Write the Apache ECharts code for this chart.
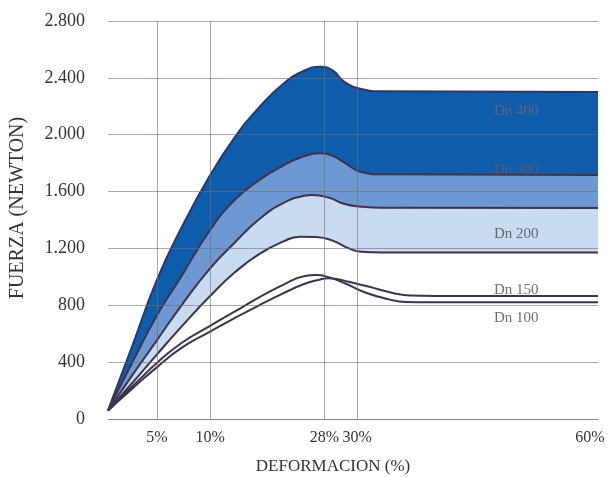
<!DOCTYPE html>
<html>
<head>
<meta charset="utf-8">
<script src="https://cdn.jsdelivr.net/npm/echarts@6/dist/echarts.min.js"></script>
<style>html,body{margin:0;padding:0;background:#fff;overflow:hidden}#c{width:607px;height:477px;position:absolute;left:0;top:0}</style>
</head>
<body>
<div id="c"></div>
<script>
// Schematic (non-linear) deformation axis: 121 equal steps, labelled at these steps
const xTickLabels = ['5%', '10%', '28%', '30%', '60%'];
const xTickSteps = [12, 25, 53, 61, 120];
const stepCount = 121;

// Force (N) curves; x = step on the deformation axis
const dn400Steps = [0, 6, 12, 18, 25, 31, 37, 43, 48, 52, 55, 58, 62, 67, 120];
const dn400Force = [60, 518, 980, 1346, 1715, 1980, 2192, 2360, 2450, 2478, 2452, 2370, 2322, 2305, 2300];

const dn300Steps = [0, 6, 12, 18, 25, 31, 37, 43, 48, 52, 55, 58, 62, 67, 120];
const dn300Force = [60, 400, 730, 1005, 1330, 1540, 1680, 1785, 1848, 1869, 1852, 1802, 1738, 1722, 1717];

const dn200UpSteps = [0, 6, 12, 18, 25, 31, 37, 43, 48, 50, 54, 58, 62, 67, 120];
const dn200UpForce = [60, 310, 555, 800, 1060, 1240, 1405, 1520, 1570, 1576, 1558, 1512, 1494, 1486, 1484];

const dn200LowSteps = [0, 6, 12, 18, 25, 31, 37, 43, 47, 51, 55, 59, 62, 67, 120];
const dn200LowForce = [60, 255, 455, 650, 865, 1030, 1160, 1250, 1283, 1280, 1255, 1200, 1177, 1172, 1172];

const dn100Steps = [0, 6, 12, 18, 25, 31, 37, 43, 48, 51, 54, 58, 63, 69, 73, 78, 120];
const dn100Force = [60, 230, 395, 535, 655, 755, 855, 945, 1005, 1013, 998, 955, 890, 840, 823, 821, 821];

const dn150Steps = [0, 6, 12, 18, 25, 31, 37, 43, 48, 52, 54, 56, 59, 64, 70, 74, 80, 120];
const dn150Force = [60, 215, 365, 500, 615, 710, 800, 885, 950, 982, 990, 985, 965, 930, 885, 868, 865, 865];

// Curve labels
const labelNames = ['Dn 400', 'Dn 300', 'Dn 200', 'Dn 150', 'Dn 100'];
const labelSteps = [100, 100, 100, 100, 100];
const labelForce = [2167, 1752, 1302, 908, 711];
const labelColors = ['#7e6266', '#6e5660', '#4a4a4a', '#4a4a4a', '#4a4a4a'];

const xCategories = Array.from({length: stepCount}, (_, i) => {
  const k = xTickSteps.indexOf(i);
  return k >= 0 ? xTickLabels[k] : '';
});
const lastTick = xTickLabels[xTickLabels.length - 1];
const pairs = (s, v) => s.map((x, i) => [x, v[i]]);
const fmtY = v => v >= 1000 ? Math.floor(v / 1000) + '.' + String(v % 1000).padStart(3, '0') : String(v);

const FONT = 'Liberation Serif';
const LINE = '#3b3350';
const lineSeries = (name, data, fill) => ({
  name, type: 'line', data, smooth: 0.5, symbol: 'none',
  lineStyle: {color: LINE, width: 2},
  areaStyle: fill ? {color: fill, opacity: 1, origin: 'start'} : undefined,
  z: 2
});

const chart = echarts.init(document.getElementById('c'), null, {renderer: 'canvas', width: 607, height: 477});
chart.setOption({
  backgroundColor: '#ffffff',
  animation: false,
  grid: {left: 108, right: 9, top: 21, bottom: 58, containLabel: false, outerBoundsMode: 'none'},
  xAxis: {
    type: 'category', data: xCategories, boundaryGap: false, z: 5,
    name: 'DEFORMACION (%)', nameLocation: 'middle', nameGap: 39,
    nameTextStyle: {fontFamily: FONT, fontSize: 17, color: '#333', padding: [0, 40, 0, 0]},
    axisLine: {show: true, lineStyle: {color: '#8a8282', width: 1}},
    axisTick: {show: false},
    axisLabel: {
      interval: (i) => xTickSteps.includes(i), fontFamily: FONT, fontSize: 16, color: '#333', margin: 11,
      formatter: v => v === lastTick ? '{e|' + v + '}' : v,
      rich: {e: {fontFamily: FONT, fontSize: 16, color: '#333', padding: [0, 16, 0, 0]}}
    },
    splitLine: {show: true, interval: (i) => xTickSteps.includes(i) && i !== 120,
      lineStyle: {color: 'rgba(120,105,105,0.6)', width: 1}}
  },
  yAxis: {
    type: 'value', min: 0, max: 2800, interval: 400, z: 5,
    name: 'FUERZA (NEWTON)', nameLocation: 'middle', nameGap: 80, nameRotate: 90,
    nameTextStyle: {fontFamily: FONT, fontSize: 20, color: '#333', padding: [0, 0, 0, 24]},
    axisLine: {show: false}, axisTick: {show: false},
    axisLabel: {formatter: fmtY, fontFamily: FONT, fontSize: 18, color: '#333', margin: 23},
    splitLine: {show: true, lineStyle: {color: 'rgba(120,105,105,0.6)', width: 1}}
  },
  series: [
    lineSeries('Dn 400', pairs(dn400Steps, dn400Force), '#0e5dac'),
    lineSeries('Dn 300', pairs(dn300Steps, dn300Force), '#6e98d3'),
    lineSeries('Dn 200 sup', pairs(dn200UpSteps, dn200UpForce), '#c8dbf0'),
    lineSeries('Dn 200 inf', pairs(dn200LowSteps, dn200LowForce), '#ffffff'),
    lineSeries('Dn 100', pairs(dn100Steps, dn100Force), null),
    lineSeries('Dn 150', pairs(dn150Steps, dn150Force), null),
    {
      name: 'labels', type: 'scatter', symbolSize: 0, z: 6,
      data: labelNames.map((n, i) => ({
        value: [labelSteps[i], labelForce[i]], name: n,
        label: {color: labelColors[i]}
      })),
      label: {show: true, position: 'inside', formatter: p => p.name, fontFamily: FONT, fontSize: 15},
      labelLayout: {hideOverlap: false}
    }
  ]
});
</script>
</body>
</html>
